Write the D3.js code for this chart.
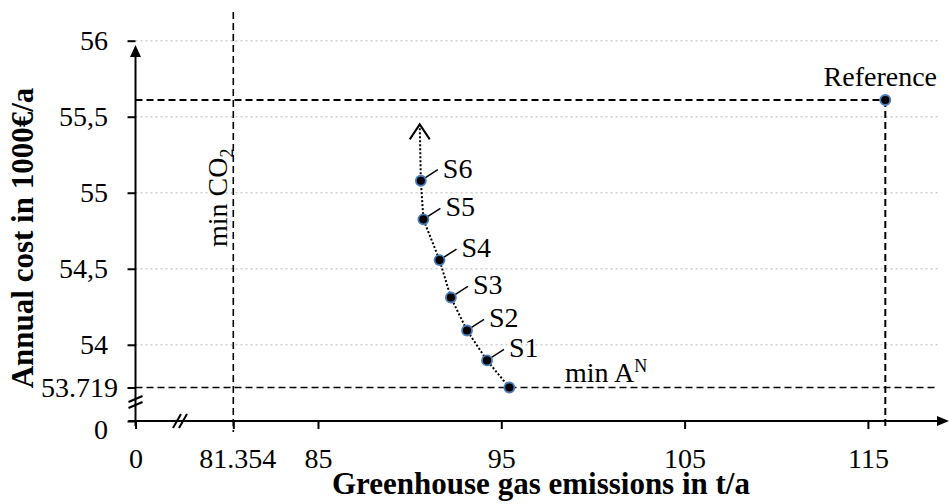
<!DOCTYPE html>
<html>
<head>
<meta charset="utf-8">
<script src="https://cdn.jsdelivr.net/npm/d3@7"></script>
<style>
  body { margin: 0; background: #fff; }
  svg { display: block; }
  text { font-family: "Liberation Serif", "Times New Roman", serif; fill: #000; }
</style>
</head>
<body>
<div id="chart"></div>
<script>
// values
const solutionNames = ["min AN", "S1", "S2", "S3", "S4", "S5", "S6"];
const emissions = [95.44, 94.22, 93.13, 92.25, 91.63, 90.75, 90.61];
const costs = [53.719, 53.897, 54.094, 54.311, 54.557, 54.825, 55.079];
const arrowTip = [90.55, 55.45];
const reference = [115.95, 55.61];
const minCO2 = 81.354;
const minCost = 53.719;

const xTickValues = [0, 81.354, 85, 95, 105, 115];
const xTickLabels = ["0", "81.354", "85", "95", "105", "115"];
const yTickValues = [0, 53.719, 54, 54.5, 55, 55.5, 56];
const yTickLabels = ["0", "53.719", "54", "54,5", "55", "55,5", "56"];
const gridValues = [54, 54.5, 55, 55.5, 56];

const width = 950, height = 504;

// broken axes -> piecewise scales
const x = d3.scaleLinear()
  .domain([0, 81.354, 85, 125])
  .range([135.5, 233.3, 318, 318 + 40 * 18.33]);
const y = d3.scaleLinear()
  .domain([0, 53.719, 56])
  .range([421, 387.5, 40.7]);

const xEnd = 949, yTop = 45;

const svg = d3.select("#chart").append("svg")
  .attr("width", width)
  .attr("height", height);

// grid
svg.append("g").selectAll("line")
  .data(gridValues)
  .enter().append("line")
  .attr("x1", x(0)).attr("x2", 940)
  .attr("y1", d => y(d)).attr("y2", d => y(d))
  .attr("stroke", "#cfcfcf")
  .attr("stroke-width", 1.5)
  .attr("stroke-dasharray", "2,3");

// guide lines
const dashed = svg.append("g")
  .attr("stroke", "#000")
  .attr("fill", "none")
  .attr("stroke-dasharray", "7,4");

dashed.append("line")
  .attr("x1", x(minCO2)).attr("x2", x(minCO2))
  .attr("y1", 12).attr("y2", y(0) + 11)
  .attr("stroke-width", 1.6);
dashed.append("line")
  .attr("x1", x(0)).attr("x2", 938)
  .attr("y1", y(minCost)).attr("y2", y(minCost))
  .attr("stroke-width", 1.6);
dashed.append("line")
  .attr("x1", x(0)).attr("x2", x(reference[0]))
  .attr("y1", y(reference[1])).attr("y2", y(reference[1]))
  .attr("stroke-width", 2);
dashed.append("line")
  .attr("x1", x(reference[0])).attr("x2", x(reference[0]))
  .attr("y1", y(reference[1])).attr("y2", y(0) + 8)
  .attr("stroke-width", 2);

// axes
const xAxis = svg.append("g")
  .attr("transform", `translate(0,${y(0)})`)
  .call(d3.axisBottom(x)
    .tickValues(xTickValues)
    .tickFormat((d, i) => xTickLabels[i])
    .tickSize(8)
    .tickPadding(19));
xAxis.select(".domain").remove();
xAxis.selectAll(".tick line").attr("stroke-width", 2);
xAxis.selectAll(".tick text")
  .attr("font-family", "Liberation Serif, serif")
  .attr("font-size", 28)
  .attr("dx", (d, i) => i === 1 ? 4 : 0);

const yAxis = svg.append("g")
  .attr("transform", `translate(${x(0)},0)`)
  .call(d3.axisLeft(y)
    .tickValues(yTickValues)
    .tickFormat((d, i) => yTickLabels[i])
    .tickSize(8)
    .tickPadding(19.5));
yAxis.select(".domain").remove();
yAxis.selectAll(".tick line").attr("stroke-width", 2);
yAxis.selectAll(".tick text")
  .attr("font-family", "Liberation Serif, serif")
  .attr("font-size", 28)
  .attr("dx", (d, i) => i === 1 ? 10 : 0)
  .attr("dy", (d, i) => i === 0 ? "0.62em" : "0.32em");

// axis lines with arrows
svg.append("line")
  .attr("x1", x(0) - 7).attr("x2", xEnd - 10)
  .attr("y1", y(0)).attr("y2", y(0))
  .attr("stroke", "#000").attr("stroke-width", 2);
svg.append("path")
  .attr("d", `M${xEnd},${y(0)} L${xEnd - 12},${y(0) - 5} L${xEnd - 12},${y(0) + 5} Z`)
  .attr("fill", "#000");
svg.append("line")
  .attr("x1", x(0)).attr("x2", x(0))
  .attr("y1", y(0) + 5).attr("y2", yTop + 10)
  .attr("stroke", "#000").attr("stroke-width", 2);
svg.append("path")
  .attr("d", `M${x(0)},${yTop} L${x(0) - 5.5},${yTop + 12} L${x(0) + 5.5},${yTop + 12} Z`)
  .attr("fill", "#000");

// break marks
const brk = svg.append("g").attr("stroke", "#000").attr("stroke-width", 2);
const bx = x(37), by = y(30.5);
[-3, 3].forEach(o => {
  brk.append("line")
    .attr("x1", bx + o - 4).attr("y1", y(0) + 7)
    .attr("x2", bx + o + 4).attr("y2", y(0) - 7);
  brk.append("line")
    .attr("x1", x(0) - 7).attr("y1", by + o + 3)
    .attr("x2", x(0) + 7).attr("y2", by + o - 3);
});

// solution path
const pts = emissions.map((e, i) => [e, costs[i]]);
const line = d3.line().x(d => x(d[0])).y(d => y(d[1]));
svg.append("path")
  .datum(pts.concat([arrowTip]))
  .attr("d", line)
  .attr("fill", "none")
  .attr("stroke", "#000")
  .attr("stroke-width", 2)
  .attr("stroke-dasharray", "2,2");
svg.append("path")
  .attr("d", `M${x(arrowTip[0]) - 10},${y(arrowTip[1]) + 15} L${x(arrowTip[0])},${y(arrowTip[1])} L${x(arrowTip[0]) + 10},${y(arrowTip[1]) + 15}`)
  .attr("fill", "none")
  .attr("stroke", "#000")
  .attr("stroke-width", 2);

// leader lines and labels
const labelled = pts.slice(1).map((p, i) => ({ p, name: solutionNames[i + 1] }));
svg.append("g").selectAll("line")
  .data(labelled)
  .enter().append("line")
  .attr("x1", d => x(d.p[0]) + 3).attr("y1", d => y(d.p[1]) - 2)
  .attr("x2", d => x(d.p[0]) + 17).attr("y2", d => y(d.p[1]) - 11)
  .attr("stroke", "#000").attr("stroke-width", 1.5);
svg.append("g").selectAll("text")
  .data(labelled)
  .enter().append("text")
  .attr("x", d => x(d.p[0]) + 22)
  .attr("y", d => y(d.p[1]) - 3)
  .attr("font-size", 28)
  .text(d => d.name);

// markers
svg.append("g").selectAll("circle")
  .data(pts.concat([reference]))
  .enter().append("circle")
  .attr("cx", d => x(d[0]))
  .attr("cy", d => y(d[1]))
  .attr("r", 5)
  .attr("fill", "#000")
  .attr("stroke", "#4a7ebb")
  .attr("stroke-width", 1.8);

// annotations
svg.append("text")
  .attr("x", x(reference[0]) - 5)
  .attr("y", y(reference[1]) - 14)
  .attr("text-anchor", "middle")
  .attr("font-size", 28)
  .text("Reference");

const minA = svg.append("text")
  .attr("x", 565)
  .attr("y", y(minCost) - 6)
  .attr("font-size", 28);
minA.append("tspan").text("min A");
minA.append("tspan").attr("font-size", 18).attr("dy", -10).text("N");

const co2 = svg.append("text")
  .attr("transform", `translate(${x(minCO2) - 6},247) rotate(-90)`)
  .attr("font-size", 28);
co2.append("tspan").text("min CO");
co2.append("tspan").attr("font-size", 18).attr("dy", 6).text("2");

// axis titles
svg.append("text")
  .attr("x", 541)
  .attr("y", 494)
  .attr("text-anchor", "middle")
  .attr("font-size", 31)
  .attr("font-weight", "bold")
  .text("Greenhouse gas emissions in t/a");
svg.append("text")
  .attr("transform", `translate(33,238) rotate(-90)`)
  .attr("text-anchor", "middle")
  .attr("font-size", 31)
  .attr("font-weight", "bold")
  .text("Annual cost in 1000€/a");
</script>
</body>
</html>
